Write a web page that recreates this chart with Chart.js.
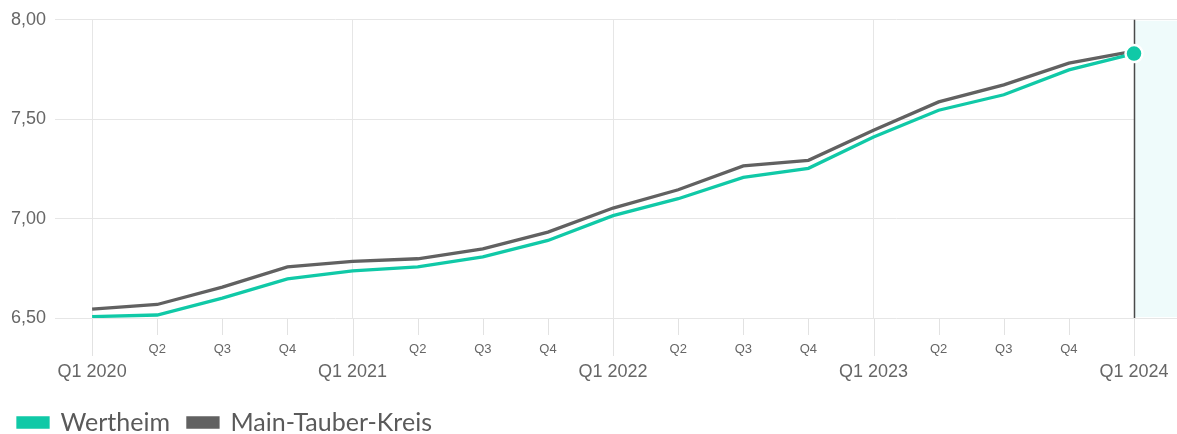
<!DOCTYPE html>
<html>
<head>
<meta charset="utf-8">
<script src="https://cdn.jsdelivr.net/npm/chart.js@4"></script>
<style>
  html, body { margin: 0; padding: 0; background: #fff; }
  #wrap { width: 1177px; height: 434px; position: relative; }
</style>
</head>
<body>
<div id="wrap"><canvas id="chart"></canvas></div>
<script>
const quarters = ['Q1 2020', 'Q2', 'Q3', 'Q4', 'Q1 2021', 'Q2', 'Q3', 'Q4', 'Q1 2022', 'Q2', 'Q3', 'Q4', 'Q1 2023', 'Q2', 'Q3', 'Q4', 'Q1 2024'];
const wertheim = [6.507, 6.515, 6.60, 6.697, 6.737, 6.757, 6.807, 6.89, 7.015, 7.10, 7.207, 7.253, 7.41, 7.545, 7.623, 7.748, 7.83];
const mainTauber = [6.545, 6.568, 6.655, 6.757, 6.785, 6.798, 6.848, 6.932, 7.053, 7.145, 7.265, 7.293, 7.445, 7.587, 7.673, 7.782, 7.842];
const yTicks = [6.5, 7.0, 7.5, 8.0];

const TEAL = '#10c9a7';
const GREY = '#616161';
const last = quarters.length - 1;
const isQ1 = (i) => i % 4 === 0;

// shaded area + marker line at the latest quarter, tick marks under the axis
const marker = {
  id: 'marker',
  afterLayout(chart) {
    // push the legend a bit further down, like the original
    chart.legend.top += 11;
    chart.legend.bottom += 11;
  },
  beforeDatasetsDraw(chart) {
    const { ctx, chartArea: a, scales: { x } } = chart;
    const px = Math.round(x.getPixelForValue(last)) + 0.5;
    ctx.save();
    ctx.fillStyle = '#effbfb';
    ctx.fillRect(px, a.top + 1, a.right - px, a.bottom - a.top - 2);
    ctx.strokeStyle = '#e2e2e2';
    ctx.lineWidth = 1;
    ctx.beginPath();
    quarters.forEach((q, i) => {
      const p = Math.round(x.getPixelForValue(i)) + 0.5;
      ctx.moveTo(p, a.bottom + 1);
      ctx.lineTo(p, a.bottom + (isQ1(i) ? 38 : 17));
    });
    ctx.stroke();
    ctx.strokeStyle = '#4a4a4a';
    ctx.lineWidth = 1.5;
    ctx.beginPath();
    ctx.moveTo(px, a.top);
    ctx.lineTo(px, a.bottom);
    ctx.stroke();
    ctx.restore();
  }
};

const toPoints = (arr) => arr.map((v, i) => ({ x: i, y: v }));

new Chart(document.getElementById('chart'), {
  type: 'line',
  data: {
    datasets: [
      {
        label: 'Wertheim',
        data: toPoints(wertheim),
        borderColor: TEAL,
        backgroundColor: TEAL,
        borderWidth: 3.3,
        tension: 0,
        pointRadius: (c) => (c.dataIndex === last ? 8.5 : 0),
        pointBorderColor: '#fff',
        pointBorderWidth: 2.5,
        pointBackgroundColor: TEAL,
        order: 1
      },
      {
        label: 'Main-Tauber-Kreis',
        data: toPoints(mainTauber),
        borderColor: GREY,
        backgroundColor: GREY,
        borderWidth: 3.3,
        tension: 0,
        pointRadius: 0,
        order: 2
      }
    ]
  },
  options: {
    responsive: true,
    maintainAspectRatio: false,
    animation: false,
    layout: { autoPadding: false, padding: { left: 0, right: 0, top: 8, bottom: 0 } },
    plugins: {
      tooltip: { enabled: false },
      legend: {
        position: 'bottom',
        align: 'start',
        labels: {
          boxWidth: 30,
          boxHeight: 9,
          padding: 18,
          color: '#5a5a5a',
          font: { family: 'Lato', size: 25 }
        }
      }
    },
    scales: {
      x: {
        type: 'linear',
        min: -0.57,
        max: last + 0.66,
        afterBuildTicks: (s) => { s.ticks = quarters.map((q, i) => ({ value: i })); },
        afterFit: (s) => { s.height = 63; },
        border: { display: false },
        grid: {
          color: (c) => (c.tick && isQ1(c.tick.value) && c.tick.value !== last ? '#e6e6e6' : 'rgba(0,0,0,0)'),
          tickColor: 'rgba(0,0,0,0)',
          tickLength: 17
        },
        ticks: {
          autoSkip: false,
          maxRotation: 0,
          padding: 7,
          color: '#666',
          font: (c) => (c.tick && isQ1(c.tick.value)
            ? { family: 'Liberation Sans', size: 18, lineHeight: 1.1 }
            : { family: 'Liberation Sans', size: 13, lineHeight: 1.2 }),
          callback: (v) => (isQ1(v) ? ['', quarters[v]] : quarters[v])
        }
      },
      y: {
        min: 6.5,
        max: 8.0,
        afterBuildTicks: (s) => { s.ticks = yTicks.map((v) => ({ value: v })); },
        afterFit: (s) => { s.width = 55; },
        border: { display: false },
        grid: { color: '#e6e6e6', drawTicks: false },
        ticks: {
          padding: 9,
          color: '#666',
          font: { family: 'Liberation Sans', size: 18 },
          callback: (v) => v.toFixed(2).replace('.', ',')
        }
      }
    }
  },
  plugins: [marker]
});
</script>
</body>
</html>
